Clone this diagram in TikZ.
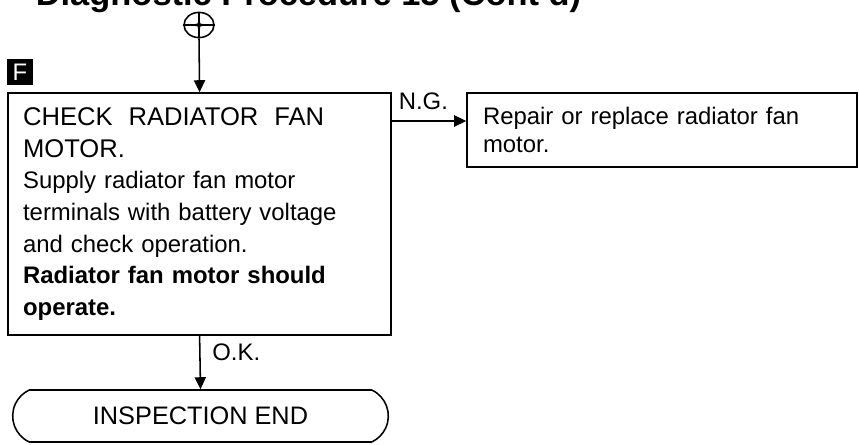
\documentclass[tikz,border=0pt]{standalone}
\usepackage{fontspec}
\setmainfont{Liberation Sans}
\usetikzlibrary{arrows.meta,shapes.misc,shapes.geometric}
\begin{document}
\begin{tikzpicture}[line width=1.1pt,
  every node/.style={font=\fontsize{17pt}{22.5pt}\selectfont},
  box/.style={draw,rectangle,align=left,inner sep=0pt},
  arr/.style={-{Triangle[length=0.3cm,width=0.28cm]}},
  lbl/.style={anchor=base west,inner sep=0pt,font=\fontsize{17pt}{22pt}\selectfont}]
\useasboundingbox (0,0) rectangle (21.475,-11.125);
\node[anchor=base west,inner sep=0pt,font=\fontsize{24.5pt}{26pt}\selectfont\bfseries] (title) at (0.875,-0.13) {Diagnostic Procedure 15 (Cont'd)};
\node[draw,ellipse,minimum width=0.75cm,minimum height=0.63cm,inner sep=0pt] (conn) at (4.975,-0.625) {};
\draw (conn.north)--(conn.south);
\draw (conn.west)--(conn.east);
\begin{scope}[shift={(conn.center)}]
\fill (90:0.2)--(135:0.05)--(180:0.22)--(225:0.05)--(270:0.2)--(315:0.05)--(0:0.22)--(45:0.05)--cycle;
\end{scope}
\node[fill=black,text=white,minimum size=0.65cm,inner sep=0pt,font=\fontsize{17pt}{17pt}\selectfont] (f) at (0.5,-1.8) {F};
\node[box,minimum width=9.575cm,minimum height=6.05cm,text width=8.825cm] (check) at (4.99,-5.35) {%
{\fontsize{18.2pt}{22.5pt}\selectfont CHECK\ \ RADIATOR\ \ FAN\\ MOTOR.}\\
Supply radiator fan motor\\
terminals with battery voltage\\
and check operation.\\
\textbf{Radiator fan motor should}\\
\textbf{operate.}};
\node[box,minimum width=9.75cm,minimum height=1.85cm,text width=8.95cm,font=\fontsize{17pt}{20pt}\selectfont] (repair) at (16.55,-3.25) {Repair or replace radiator fan\\ motor.};
\node[draw,rounded rectangle,rounded rectangle arc length=130,minimum width=9.625cm,minimum height=1.3cm,font=\fontsize{18pt}{20pt}\selectfont] (end) at (5.0125,-10.4) {INSPECTION END};
\coordinate (ng) at (9.775,-3.025);
\draw[arr] (conn.south)--(check.north);
\draw[arr] (ng)--node[lbl,pos=0,xshift=0.175cm,yshift=0.275cm]{N.G.}(ng -| repair.west);
\draw[arr] (check.south)--node[lbl,pos=0,xshift=0.3cm,yshift=-0.625cm]{O.K.}(end.north);
\end{tikzpicture}
\end{document}
